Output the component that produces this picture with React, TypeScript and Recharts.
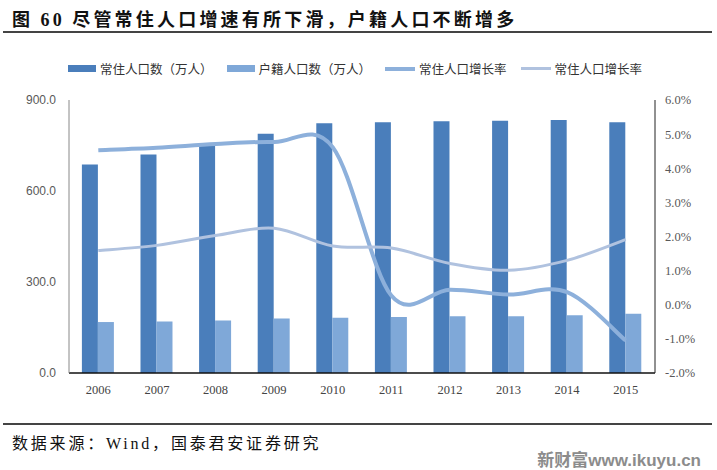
import { ComposedChart, Bar, Line, XAxis, YAxis } from 'recharts';

const years = ['2006', '2007', '2008', '2009', '2010', '2011', '2012', '2013', '2014', '2015'];
const residentPop = [687, 720, 751, 789, 823, 827, 830, 832, 834, 827];
const registeredPop = [168, 170, 173, 180, 182, 185, 187, 187, 190, 195];
const residentGrowthA = [4.53, 4.6, 4.71, 4.77, 4.62, 0.27, 0.44, 0.3, 0.37, -1.05];
const residentGrowthB = [1.59, 1.74, 2.03, 2.24, 1.72, 1.66, 1.21, 1.01, 1.3, 1.91];
const leftTicks = [0, 300, 600, 900];
const rightTicks = [-2, -1, 0, 1, 2, 3, 4, 5, 6];

const DARK = '#4a7ebb';
const LIGHT = '#7fa8d8';
const LINE_A = '#8db0db';
const LINE_B = '#b0c2df';

const data = years.map((year, i) => ({
  year,
  resident: residentPop[i],
  registered: registeredPop[i],
  growthA: residentGrowthA[i],
  growthB: residentGrowthB[i],
}));

// Excel 风格的平滑曲线（Catmull-Rom）
function smoothCurve(context: any) {
  let pts: [number, number][] = [];
  return {
    areaStart() {},
    areaEnd() {},
    lineStart() {
      pts = [];
    },
    lineEnd() {
      const n = pts.length;
      if (!n) return;
      context.moveTo(pts[0][0], pts[0][1]);
      for (let i = 0; i < n - 1; i++) {
        const p0 = pts[i - 1] || pts[i];
        const p1 = pts[i];
        const p2 = pts[i + 1];
        const p3 = pts[i + 2] || p2;
        context.bezierCurveTo(
          p1[0] + (p2[0] - p0[0]) / 6,
          p1[1] + (p2[1] - p0[1]) / 6,
          p2[0] - (p3[0] - p1[0]) / 6,
          p2[1] - (p3[1] - p1[1]) / 6,
          p2[0],
          p2[1]
        );
      }
    },
    point(x: number, y: number) {
      pts.push([x, y]);
    },
  };
}

const cjk = '"Noto Sans CJK SC", sans-serif';
const serif = '"Liberation Serif", "Noto Sans CJK SC", serif';

const legendItems = [
  { label: '常住人口数（万人）', color: DARK, type: 'box' },
  { label: '户籍人口数（万人）', color: LIGHT, type: 'box' },
  { label: '常住人口增长率', color: LINE_A, type: 'thick' },
  { label: '常住人口增长率', color: LINE_B, type: 'thin' },
];

export default function App() {
  return (
    <div style={{ position: 'absolute', left: 0, top: 0, width: 717, height: 470, background: '#fff' }}>
      <div
        style={{
          position: 'absolute',
          left: 12,
          top: 5,
          fontFamily: cjk,
          fontWeight: 700,
          fontSize: 18,
          letterSpacing: 3.2,
          color: '#111',
          whiteSpace: 'nowrap',
        }}
      >
        图 <span style={{ fontFamily: serif }}>60</span> 尽管常住人口增速有所下滑，户籍人口不断增多
      </div>
      <div style={{ position: 'absolute', left: 3, top: 31, width: 709, height: 2, background: '#444' }} />

      <div
        style={{
          position: 'absolute',
          left: 68,
          top: 59,
          display: 'flex',
          alignItems: 'center',
          fontFamily: cjk,
          fontSize: 12.5,
          color: '#333',
          whiteSpace: 'nowrap',
        }}
      >
        {legendItems.map((item, i) => (
          <div key={i} style={{ display: 'flex', alignItems: 'center', marginRight: i === 3 ? 0 : 14 }}>
            <div
              style={{
                width: item.type === 'box' ? 28 : 30,
                height: item.type === 'box' ? 7 : item.type === 'thick' ? 4 : 3,
                background: item.color,
                marginRight: 4,
              }}
            />
            <span>{item.label}</span>
          </div>
        ))}
      </div>

      <div style={{ position: 'absolute', left: 0, top: 0 }}>
        <ComposedChart
          width={717}
          height={470}
          data={data}
          margin={{ top: 100, right: 0, bottom: 67, left: 9 }}
          barCategoryGap="22%"
          barGap={0}
        >
          <XAxis
            dataKey="year"
            tickLine={false}
            axisLine={{ stroke: '#111', strokeWidth: 1.5 }}
            tick={{ fontFamily: serif, fontSize: 12.5, fill: '#444' }}
            tickMargin={6}
            height={30}
          />
          <YAxis
            yAxisId="left"
            domain={[0, 900]}
            ticks={leftTicks}
            tickFormatter={(v: number) => v.toFixed(1)}
            tickLine={false}
            axisLine={{ stroke: '#888' }}
            tick={{ fontFamily: '"Liberation Sans", sans-serif', fontSize: 12, fill: '#595959' }}
            tickMargin={7}
            width={60}
          />
          <YAxis
            yAxisId="right"
            orientation="right"
            domain={[-2, 6]}
            ticks={rightTicks}
            tickFormatter={(v: number) => `${v.toFixed(1)}%`}
            tickLine={false}
            axisLine={{ stroke: '#222' }}
            tick={{ fontFamily: serif, fontSize: 12.5, fill: '#595959' }}
            tickMargin={4}
            width={62}
          />
          <Bar yAxisId="left" dataKey="resident" fill={DARK} isAnimationActive={false} />
          <Bar yAxisId="left" dataKey="registered" fill={LIGHT} isAnimationActive={false} />
          <Line
            yAxisId="right"
            dataKey="growthA"
            type={smoothCurve as any}
            stroke={LINE_A}
            strokeWidth={4}
            dot={false}
            activeDot={false}
            isAnimationActive={false}
          />
          <Line
            yAxisId="right"
            dataKey="growthB"
            type={smoothCurve as any}
            stroke={LINE_B}
            strokeWidth={3}
            dot={false}
            activeDot={false}
            isAnimationActive={false}
          />
        </ComposedChart>
      </div>

      <div style={{ position: 'absolute', left: 3, top: 423, width: 709, height: 2, background: '#444' }} />
      <div
        style={{
          position: 'absolute',
          left: 12,
          top: 430,
          fontFamily: serif,
          fontSize: 16,
          letterSpacing: 2.8,
          color: '#111',
          whiteSpace: 'nowrap',
        }}
      >
        数据来源：Wind，国泰君安证券研究
      </div>
      <div
        style={{
          position: 'absolute',
          right: 16,
          top: 446,
          fontFamily: '"Liberation Sans", "Noto Sans CJK SC", sans-serif',
          fontWeight: 700,
          fontSize: 17,
          color: '#8c8c8c',
          whiteSpace: 'nowrap',
        }}
      >
        新财富www.ikuyu.cn
      </div>
    </div>
  );
}
